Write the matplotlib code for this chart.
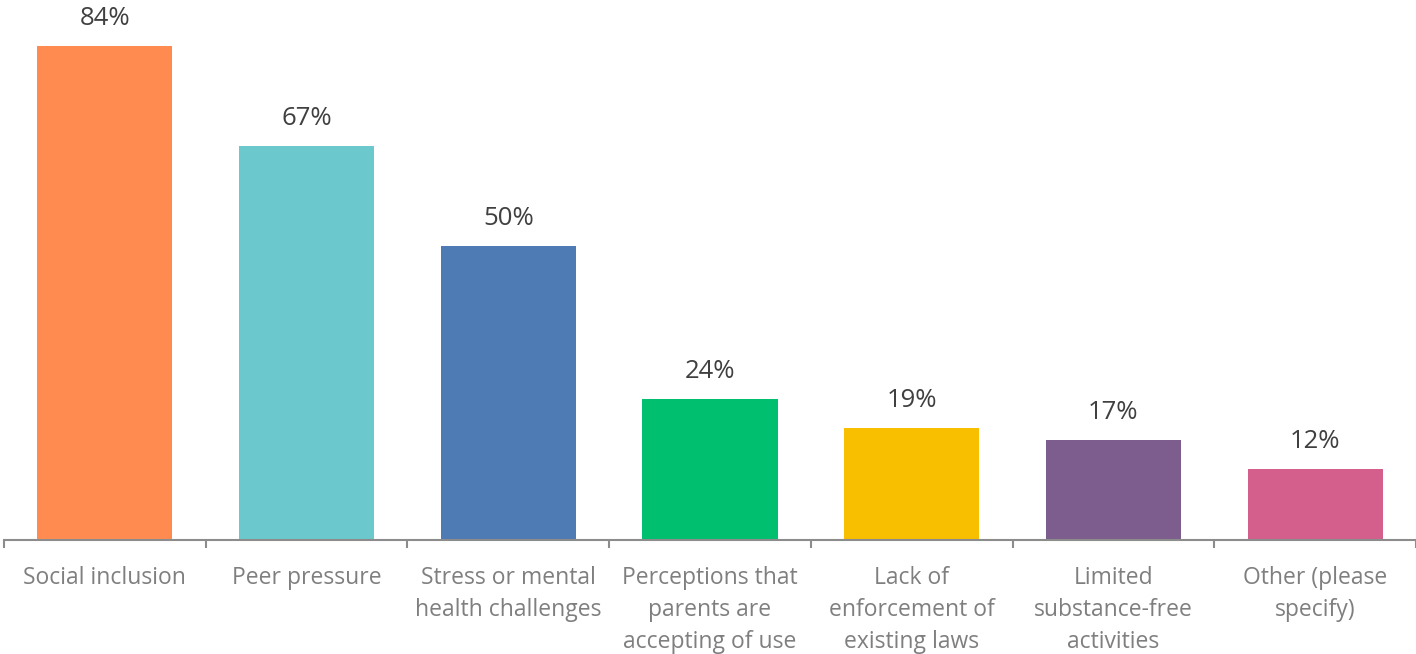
import matplotlib
matplotlib.use("Agg")
import matplotlib.pyplot as plt
import numpy as np

plt.rcParams['font.family'] = ['Open Sans', 'DejaVu Sans']

categories = ["Social inclusion", "Peer pressure", "Stress or mental\nhealth challenges",
              "Perceptions that\nparents are\naccepting of use", "Lack of\nenforcement of\nexisting laws",
              "Limited\nsubstance-free\nactivities", "Other (please\nspecify)"]
values = [84, 67, 50, 24, 19, 17, 12]
colors = ["#FF8B50", "#6BC8CC", "#4E7BB4", "#00BF6F", "#F8BE00", "#7D5D8D", "#D45F8C"]

fig = plt.figure(figsize=(14.16, 6.54), dpi=100)
ax = fig.add_axes([4 / 1416, 114 / 654, 1412 / 1416, 540 / 654])

x = np.arange(len(values))
bars = ax.bar(x, values, width=0.67, color=colors)

for xi, v in zip(x, values):
    ax.annotate(f"{v}%", (xi, v), xytext=(0, 11), textcoords="offset points",
                ha="center", va="bottom", fontsize=18.5, color="#404040")

ax.set_xlim(-0.5, len(values) - 0.5)
ax.set_ylim(0, 91.8)
ax.set_yticks([])
for s in ["top", "right", "left"]:
    ax.spines[s].set_visible(False)
ax.spines["bottom"].set_color("#8C8C8C")
ax.spines["bottom"].set_linewidth(1.5)

ax.set_xticks(x)
ax.set_xticklabels(categories, fontsize=16.5, color="#7F7F7F", linespacing=1.42, va="top")
ax.tick_params(axis="x", which="major", length=0, pad=19)
ax.set_xticks(np.arange(-0.5, len(values)), minor=True)
ax.tick_params(axis="x", which="minor", length=6, width=1.5, color="#8C8C8C", direction="out")

fig.savefig("out.png", dpi=100)
